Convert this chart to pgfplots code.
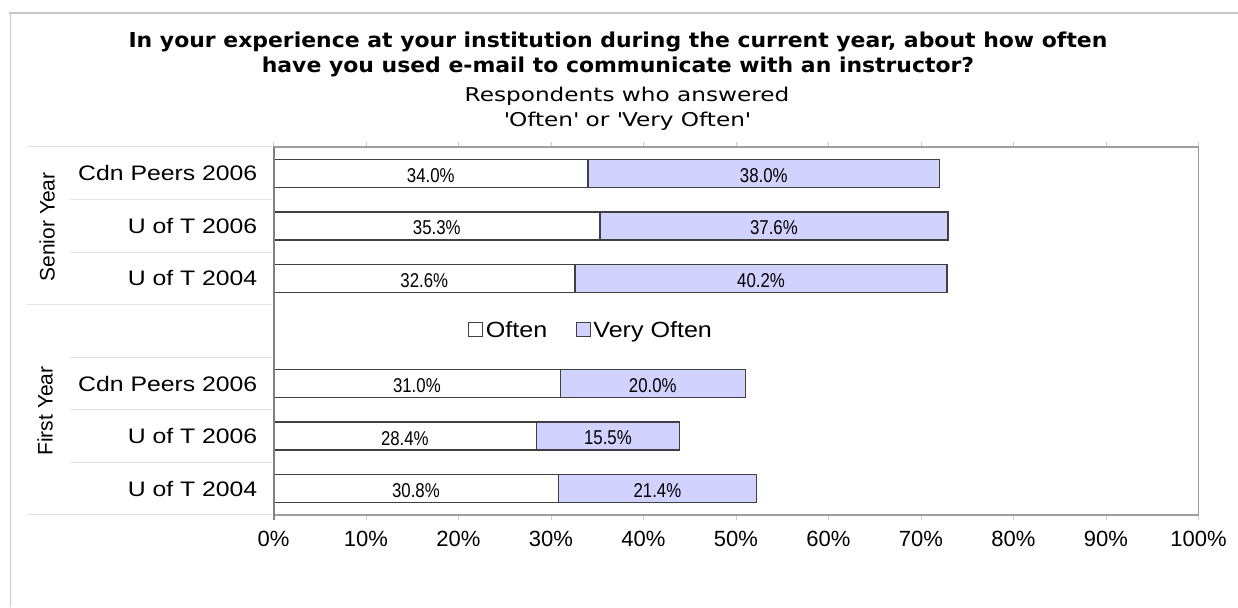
\documentclass[border=0pt]{standalone}
\usepackage{pgfplots}
\pgfplotsset{compat=1.18}
\usepackage{fontspec}
\setmainfont{Liberation Sans}
\newfontfamily\titlefont{DejaVu Sans}[FakeStretch=1.07]
\newfontfamily\subfont{DejaVu Sans}[FakeStretch=1.22]
\newfontfamily\catfont{Liberation Sans}[FakeStretch=1.18]
\newfontfamily\labfont{Liberation Sans}[FakeStretch=0.84]
\newfontfamily\legfont{Liberation Sans}[FakeStretch=1.14]
\definecolor{lav}{RGB}{210,210,255}
\definecolor{bord}{RGB}{64,64,64}
\definecolor{sep}{RGB}{228,228,228}

\pgfplotstableread{
x y v
15.40 0 30.8
14.20 1 28.4
15.50 2 31.0
16.30 4 32.6
17.65 5 35.3
17.00 6 34.0
41.50 0 21.4
36.15 1 15.5
41.00 2 20.0
52.70 4 40.2
54.10 5 37.6
53.00 6 38.0
}\labtab

\begin{document}
\begin{tikzpicture}
\path[use as bounding box] (0pt,0pt) rectangle (1238pt,607pt);
% outer frame
\draw[line width=1.5pt, color=black!22] (9pt,594pt) -- (1238pt,594pt);
\draw[line width=1.5pt, color=black!22] (10.5pt,594pt) -- (10.5pt,0pt);
% titles
\node[anchor=base, inner sep=0pt, font=\titlefont\bfseries\fontsize{20.5}{24}\selectfont] at (618pt,559pt) {In your experience at your institution during the current year, about how often};
\node[anchor=base, inner sep=0pt, font=\titlefont\bfseries\fontsize{20.5}{24}\selectfont] at (618pt,534pt) {have you used e-mail to communicate with an instructor?};
\node[anchor=base, inner sep=0pt, font=\subfont\fontsize{19}{23}\selectfont] at (627pt,505pt) {Respondents who answered};
\node[anchor=base, inner sep=0pt, font=\subfont\fontsize{19}{23}\selectfont] at (627pt,480pt) {\textquotesingle Often\textquotesingle{} or \textquotesingle Very Often\textquotesingle};

\begin{axis}[
  at={(273.5pt,92pt)}, anchor=south west,
  scale only axis, width=925pt, height=368pt,
  xmin=0, xmax=100, ymin=-0.5, ymax=6.5,
  xbar stacked, bar width=28pt,
  axis line style={draw=black!38, line width=1.2pt},
  tick align=outside, major tick length=5pt,
  xtick={0,10,...,100},
  xticklabels={0\%,10\%,20\%,30\%,40\%,50\%,60\%,70\%,80\%,90\%,100\%},
  x tick style={draw=black!20, line width=0.8pt},
  ytick={0,1,2,4,5,6},
  yticklabels={U of T 2004,U of T 2006,Cdn Peers 2006,U of T 2004,U of T 2006,Cdn Peers 2006},
  y tick style={draw=none},
  x tick label style={font=\fontsize{22}{26}\selectfont, inner sep=0pt, yshift=-11pt},
  y tick label style={font=\catfont\fontsize{21}{25}\selectfont, inner sep=0pt, anchor=east, xshift=-11pt},
  legend style={at={(0.207,0.503)}, anchor=west, draw=none, fill=none,
    legend columns=2, font=\legfont\fontsize{22}{26}\selectfont,
    nodes={inner sep=2.5pt},
    /tikz/every even column/.append style={column sep=26pt}},
  legend image code/.code={\draw[#1, line width=1.2pt] (0pt,-7pt) rectangle (14pt,7pt);},
]
\addplot[fill=white, draw=bord, line width=1.4pt] coordinates {(30.8,0) (28.4,1) (31.0,2) (32.6,4) (35.3,5) (34.0,6)};
\addplot[fill=lav, draw=bord, line width=1.4pt] coordinates {(21.4,0) (15.5,1) (20.0,2) (40.2,4) (37.6,5) (38.0,6)};
\legend{Often,Very Often}
\end{axis}

\begin{axis}[
  at={(273.5pt,92pt)}, anchor=south west,
  scale only axis, width=925pt, height=368pt,
  xmin=0, xmax=100, ymin=-0.5, ymax=6.5,
  hide axis,
]
\addplot[draw=none, mark=none, point meta=explicit,
  nodes near coords={\pgfmathprintnumber[fixed,fixed zerofill,precision=1,assume math mode=true]{\pgfplotspointmeta}\%},
  every node near coord/.append style={anchor=center, inner sep=0pt, yshift=-2pt,
    font=\labfont\fontsize{20}{24}\selectfont}]
  table[x=x, y=y, meta=v] {\labtab};
\end{axis}

% left axis line
\draw[line width=2pt, color=black!50] (273.5pt,460pt) -- (273.5pt,87pt);
% category separators
\foreach \yy in {460,302.3,92} {\draw[line width=1pt, color=sep] (27pt,\yy pt) -- (272pt,\yy pt);}
\foreach \yy in {407.4,354.9,249.7,197.1,144.6} {\draw[line width=1pt, color=sep] (70pt,\yy pt) -- (272pt,\yy pt);}
% group labels
\node[rotate=90, inner sep=0pt, font=\fontsize{21}{25}\selectfont] at (47pt,380pt) {Senior Year};
\node[rotate=90, inner sep=0pt, font=\fontsize{21}{25}\selectfont] at (45pt,196pt) {First Year};
\end{tikzpicture}
\end{document}
